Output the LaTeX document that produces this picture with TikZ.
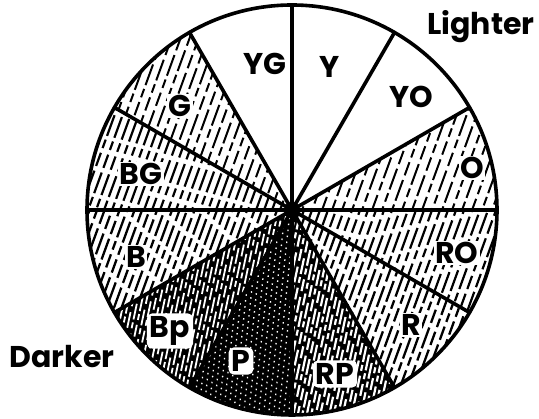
\documentclass[tikz,border=0pt]{standalone}
\usepackage{fontspec}
\setmainfont{Poppins}
\tikzset{
  lab/.style={fill=white,inner sep=1.5pt,font=\fontsize{30}{30}\selectfont\bfseries},
  darklab/.style={lab,inner sep=3pt,rounded corners=5pt},
  side/.style={inner sep=0pt,font=\fontsize{30}{30}\selectfont\bfseries},
  spoke/.style={line width=3.6pt,line cap=round},
  rim/.style={line width=3.6pt},
}
\newcommand\hatchsec[5]{%
  \begin{scope}
    \clip (C) -- ++(#1:205) arc[start angle=#1,end angle=#2,radius=205] -- cycle;
    \foreach \i in {-380,#3,...,230}{
      \pgfmathsetmacro\ph{mod(abs(\i)*7,29)}
      \draw[line width=#4,#5,dash pattern=on 14pt off 5pt on 9pt off 4pt on 22pt off 5pt,dash phase=\ph pt]
        ([shift={(\i,-220)}]C) -- ++(70:470);
    }
  \end{scope}}
\newcommand\darksec[4]{%
  \fill[black] (C) -- ++(#1:205) arc[start angle=#1,end angle=#2,radius=205] -- cycle;
  \begin{scope}
    \clip (C) -- ++(#1:205) arc[start angle=#1,end angle=#2,radius=205] -- cycle;
    \foreach \i in {-380,#3,...,230}{
      \pgfmathsetmacro\ph{mod(abs(\i)*7,23)}
      \draw[white,line width=#4,dash pattern=on 12pt off 5pt on 6pt off 3pt on 16pt off 6pt,dash phase=\ph pt]
        ([shift={(\i,-220)}]C) -- ++(78:470);
    }
  \end{scope}}
\begin{document}
\begin{tikzpicture}[x=1pt,y=1pt]
\useasboundingbox (0,0) rectangle (539,419);
\coordinate (C) at (292,209);
% purple sector: black with white dots
\fill[black] (C) -- ++(240:205) arc[start angle=240,end angle=270,radius=205] -- cycle;
\begin{scope}
  \clip (C) -- ++(240:205) arc[start angle=240,end angle=270,radius=205] -- cycle;
  \foreach \i in {-380,-375,...,230}{
    \pgfmathsetmacro\ph{mod(abs(\i)*5,11)}
    \draw[white,line width=1.3pt,dash pattern=on 1.5pt off 4.5pt,dash phase=\ph pt]
      ([shift={(\i,-220)}]C) -- ++(84:300);
  }
\end{scope}
% dark sectors
\darksec{-90}{-60}{-375.5}{2.2pt}
\darksec{210}{240}{-375.5}{1.8pt}
% hatched sectors
\hatchsec{0}{30}{-370}{2pt}{black}
\hatchsec{-30}{0}{-372}{2.2pt}{black}
\hatchsec{-60}{-30}{-372.5}{2.3pt}{black}
\hatchsec{180}{210}{-372.5}{2.3pt}{black}
\hatchsec{150}{180}{-372}{2.2pt}{black}
\hatchsec{120}{150}{-371}{2pt}{black}
% spokes
\foreach \a in {0,30,...,330}{
  \coordinate (s\a) at ([shift={(\a:205)}]C);
  \draw[spoke] (C) -- (s\a);
}
\fill (C) circle (8);
\draw[rim] (C) circle (205);
% labels
\node[lab] (lYG) at (265,355) {YG};
\node[lab] (lY) at (330,352) {Y};
\node[lab] (lYO) at (411,322) {YO};
\node[lab] (lO) at (472,251) {O};
\node[lab] (lRO) at (457,166) {RO};
\node[lab] (lR) at (411,94) {R};
\node[darklab] (lRP) at (335,45) {RP};
\node[darklab] (lP) at (241,58) {P};
\node[darklab] (lBp) at (170,88) {Bp};
\node[lab] (lB) at (136,162) {B};
\node[lab] (lBG) at (141,245) {BG};
\node[lab] (lG) at (180,313) {G};
\node[side] (light) at (481,392) {Lighter};
\node[side] (dark) at (62,62) {Darker};
\end{tikzpicture}
\end{document}
